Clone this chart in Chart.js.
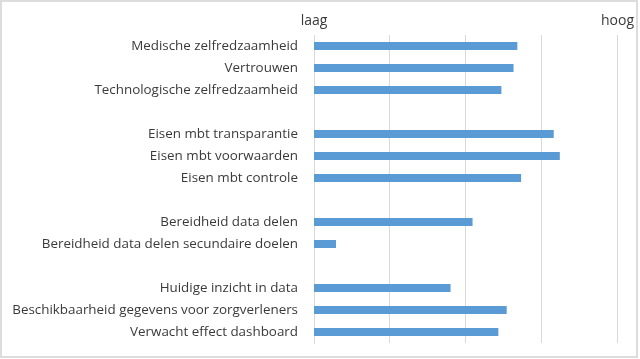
<!DOCTYPE html>
<html>
<head>
<meta charset="utf-8">
<script src="https://cdn.jsdelivr.net/npm/chart.js@4/dist/chart.umd.min.js"></script>
<style>
    html, body { margin: 0; padding: 0; background: #fff; }
    #wrap { position: relative; width: 640px; height: 359px; }
    #chart { display: block; }
    #frame {
        position: absolute; left: 0; top: 0; width: 634px; height: 354px;
        border: 2px solid #dcdcdc; pointer-events: none;
    }
</style>
</head>
<body>
<div id="wrap">
    <canvas id="chart" width="640" height="359"></canvas>
    <div id="frame"></div>
</div>
<script>
// categories ('' = empty spacer row between groups)
const categories = [
    'Medische zelfredzaamheid',
    'Vertrouwen',
    'Technologische zelfredzaamheid',
    '',
    'Eisen mbt transparantie',
    'Eisen mbt voorwaarden',
    'Eisen mbt controle',
    '',
    'Bereidheid data delen',
    'Bereidheid data delen secundaire doelen',
    '',
    'Huidige inzicht in data',
    'Beschikbaarheid gegevens voor zorgverleners',
    'Verwacht effect dashboard'
];
const scores = [3.68, 3.63, 3.47, null, 4.16, 4.24, 3.73, null, 3.09, 1.29, null, 2.80, 3.54, 3.43];

const scaleMin = 1;
const scaleMax = 5;
const tickLabels = { 1: 'laag', 5: 'hoog' };

const ctx = document.getElementById('chart').getContext('2d');
new Chart(ctx, {
    type: 'bar',
    data: {
        labels: categories,
        datasets: [{
            data: scores,
            backgroundColor: '#5b9bd5',
            borderWidth: 0,
            categoryPercentage: 1,
            barPercentage: 0.36
        }]
    },
    options: {
        indexAxis: 'y',
        responsive: false,
        animation: false,
        layout: { padding: { left: 6, right: 21, top: 8, bottom: 16 } },
        plugins: { legend: { display: false }, tooltip: { enabled: false } },
        scales: {
            x: {
                position: 'top',
                min: scaleMin,
                max: scaleMax,
                ticks: {
                    stepSize: 1,
                    autoSkip: false,
                    maxRotation: 0,
                    padding: 6,
                    color: '#3a3a3a',
                    font: { family: 'Open Sans', size: 14 },
                    callback: v => tickLabels[v] || ''
                },
                grid: { color: '#d9d9d9', drawTicks: false },
                border: { display: false },
                afterFit: s => { s.height = 27; }
            },
            y: {
                ticks: {
                    autoSkip: false,
                    padding: 16,
                    color: '#3a3a3a',
                    font: { family: 'Open Sans', size: 13.4 }
                },
                grid: { display: false, drawTicks: false },
                border: { display: true, color: '#d9d9d9' },
                afterFit: s => {
                    s.width = 308;
                    // don't let label padding shrink the plot vertically
                    s.paddingTop = 0;
                    s.paddingBottom = 0;
                }
            }
        }
    }
});
</script>
</body>
</html>
